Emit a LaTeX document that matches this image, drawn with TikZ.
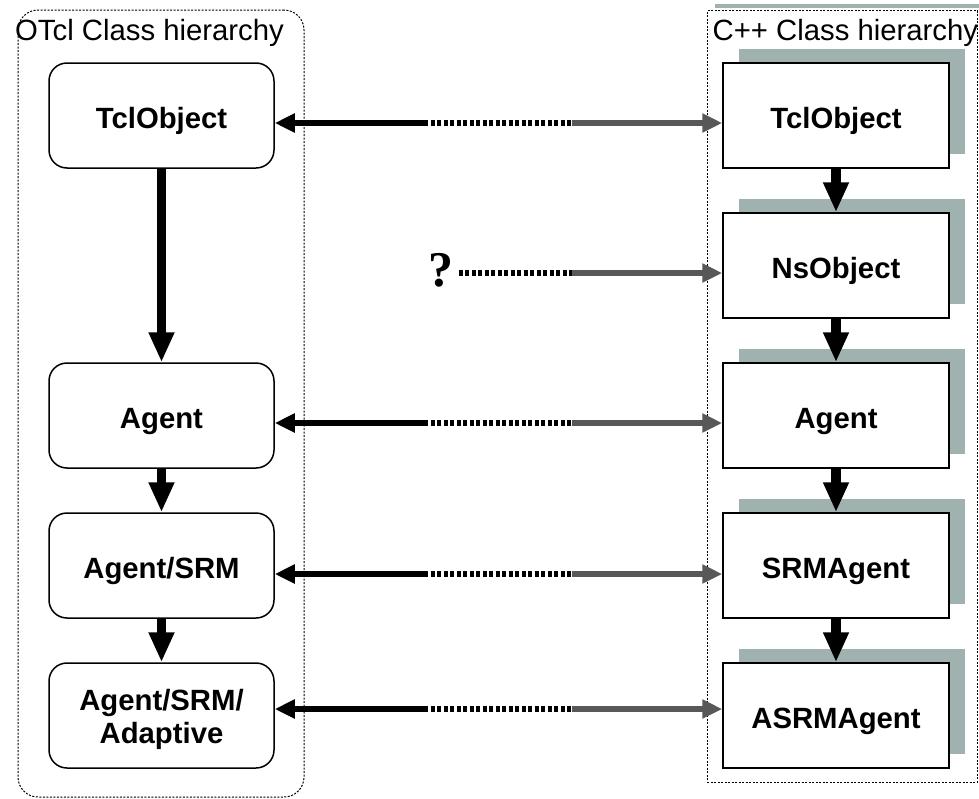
\documentclass[tikz,border=0pt]{standalone}
\usepackage{fontspec}
\setmainfont{Liberation Sans}
\newfontfamily\serifq{Liberation Serif}
\usetikzlibrary{arrows.meta,shadows}
\definecolor{shadowgrey}{RGB}{160,178,175}
\definecolor{linkgrey}{RGB}{88,88,88}
\tikzset{
  group/.style={draw, line width=1pt, dash pattern=on 2pt off 1.5pt, inner sep=0pt},
  title/.style={anchor=base west, inner sep=0pt, font=\fontsize{29.3}{33}\selectfont},
  otclbox/.style={draw, line width=1.5pt, fill=white, rounded corners=18pt,
    minimum width=225pt, minimum height=105pt, inner sep=0pt,
    text height=25pt, text depth=0pt, font=\bfseries\fontsize{29.3}{33}\selectfont},
  cppbox/.style={otclbox, sharp corners, minimum width=226pt,
    general shadow={shadow xshift=15.5pt, shadow yshift=14pt, fill=shadowgrey}},
  inherit/.style={line width=9.5pt, -{Triangle[length=30pt,width=24pt]}},
  hsolid/.style={line width=5.5pt, -{Triangle[length=20pt,width=18pt]}},
  hdots/.style={line width=5.5pt, dash pattern=on 4pt off 2.5pt},
  hgrey/.style={draw=linkgrey, line width=6pt, -{Triangle[length=20pt,width=18pt]}},
}
\begin{document}
\begin{tikzpicture}[x=1pt, y=-1pt]
\useasboundingbox (0,0) rectangle (979,798);

% group frames
\node[group, rounded corners=20pt, minimum width=286pt, minimum height=787pt] (otclgrp) at (161,403.5) {};
\fill[shadowgrey] (715,4) rectangle (979,8);
\node[group, fill=white, minimum width=270pt, minimum height=771.5pt] (cppgrp) at (842,396.25) {};

\node[title] (otcltitle) at (15,40) {OTcl Class hierarchy};
\node[title] (cpptitle) at (712.5,40) {C++ Class hierarchy};

% OTcl classes
\node[otclbox] (L1) at (161.5,115.5) {TclObject};
\node[otclbox] (L3) at (161.5,415.5) {Agent};
\node[otclbox] (L4) at (161.5,565.5) {Agent/SRM};
\node[otclbox, text depth=36pt] (L5) at (161.5,715.5)
  {\begin{tabular}[t]{@{}c@{}}Agent/SRM/\\Adaptive\end{tabular}};

% C++ classes
\node[cppbox] (R1) at (836,115.5) {TclObject};
\node[cppbox] (R2) at (836,265.5) {NsObject};
\node[cppbox] (R3) at (836,415.5) {Agent};
\node[cppbox] (R4) at (836,565.5) {SRMAgent};
\node[cppbox] (R5) at (836,715.5) {ASRMAgent};

% inheritance
\draw[inherit] (L1.south) -- (L3.north);
\draw[inherit] (L3.south) -- (L4.north);
\draw[inherit] (L4.south) -- (L5.north);
\draw[inherit] (R1.south) -- (R2.north);
\draw[inherit] (R2.south) -- (R3.north);
\draw[inherit] (R3.south) -- (R4.north);
\draw[inherit] (R4.south) -- (R5.north);

% shadowed class links
\node[anchor=base, inner sep=0pt, font=\serifq\bfseries\fontsize{50}{50}\selectfont] (qmark) at (441,286) {?};

\coordinate (a1) at (424,123);  \coordinate (b1) at (572,123);
\coordinate (b2) at (572,273);
\coordinate (a3) at (424,423);  \coordinate (b3) at (572,423);
\coordinate (a4) at (424,574);  \coordinate (b4) at (572,574);
\coordinate (a5) at (424,709);  \coordinate (b5) at (572,709);

\draw[hsolid] (a1) -- (L1.east |- a1);
\draw[hdots] (a1) -- (b1);
\draw[hgrey] (b1) -- (R1.west |- b1);

\draw[hdots] ([xshift=5pt]qmark.east |- b2) -- (b2);
\draw[hgrey] (b2) -- (R2.west |- b2);

\draw[hsolid] (a3) -- (L3.east |- a3);
\draw[hdots] (a3) -- (b3);
\draw[hgrey] (b3) -- (R3.west |- b3);

\draw[hsolid] (a4) -- (L4.east |- a4);
\draw[hdots] (a4) -- (b4);
\draw[hgrey] (b4) -- (R4.west |- b4);

\draw[hsolid] (a5) -- (L5.east |- a5);
\draw[hdots] (a5) -- (b5);
\draw[hgrey] (b5) -- (R5.west |- b5);
\end{tikzpicture}
\end{document}
